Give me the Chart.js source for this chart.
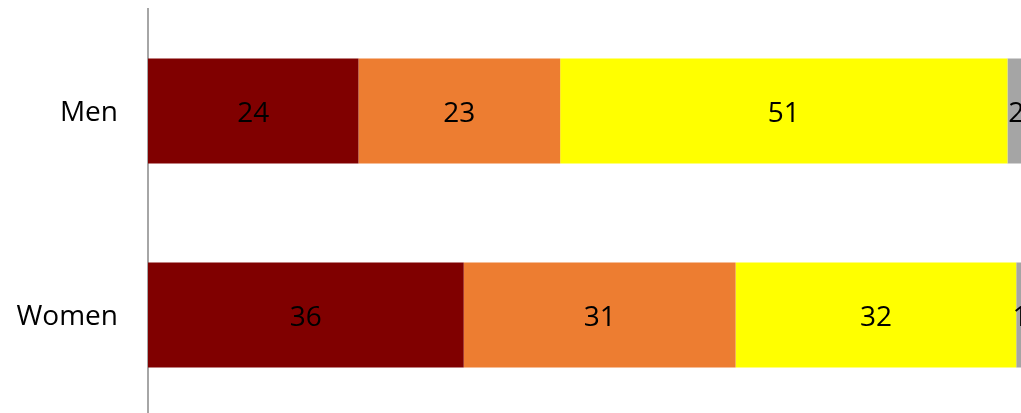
<!DOCTYPE html>
<html>
<head>
<meta charset="utf-8">
<script src="https://cdn.jsdelivr.net/npm/chart.js@4/dist/chart.umd.min.js"></script>
<style>
  html, body { margin: 0; padding: 0; background: #fff; overflow: hidden; }
  #wrap { position: relative; width: 1040px; height: 417px; }
</style>
</head>
<body>
<div id="wrap"><canvas id="chart"></canvas></div>
<script>
// rows and stacked shares (percent)
const groups = ['Men', 'Women'];
const seriesNames = ['Group 1', 'Group 2', 'Group 3', 'Group 4'];
const seriesColors = ['#800000', '#ED7D31', '#FFFF00', '#A5A5A5'];
const part1 = [24, 36];
const part2 = [23, 31];
const part3 = [51, 32];
const part4 = [2, 1];

const FONT = '"Open Sans", sans-serif';

// prints each segment's value in the middle of the bar
const barValues = {
  id: 'barValues',
  afterDatasetsDraw(chart) {
    const ctx = chart.ctx;
    ctx.save();
    ctx.font = '28px ' + FONT;
    ctx.fillStyle = '#000';
    ctx.textAlign = 'center';
    ctx.textBaseline = 'middle';
    chart.data.datasets.forEach((ds, i) => {
      chart.getDatasetMeta(i).data.forEach((bar, j) => {
        ctx.fillText(ds.data[j], (bar.x + bar.base) / 2, bar.y + 3);
      });
    });
    ctx.restore();
  }
};

const parts = [part1, part2, part3, part4];

new Chart(document.getElementById('chart'), {
  type: 'bar',
  data: {
    labels: groups,
    datasets: parts.map((p, i) => ({
      label: seriesNames[i],
      data: p,
      backgroundColor: seriesColors[i],
      borderWidth: 0,
      barPercentage: 1,
      categoryPercentage: 0.515,
    })),
  },
  options: {
    indexAxis: 'y',
    responsive: true,
    maintainAspectRatio: false,
    animation: false,
    layout: { padding: { top: 9, right: 15, bottom: 0, left: 0 } },
    plugins: { legend: { display: false }, tooltip: { enabled: false } },
    scales: {
      x: { stacked: true, min: 0, max: 100, display: false },
      y: {
        stacked: true,
        grid: { display: false, drawTicks: false },
        border: { display: true, color: '#a6a6a6', width: 2 },
        ticks: { color: '#000', font: { family: FONT, size: 28 }, padding: 30, labelOffset: 2 },
        afterFit(scale) {
          scale.width = 148;
          scale.paddingTop = 0;
          scale.paddingBottom = 0;
        },
      },
    },
  },
  plugins: [barValues],
});
</script>
</body>
</html>
